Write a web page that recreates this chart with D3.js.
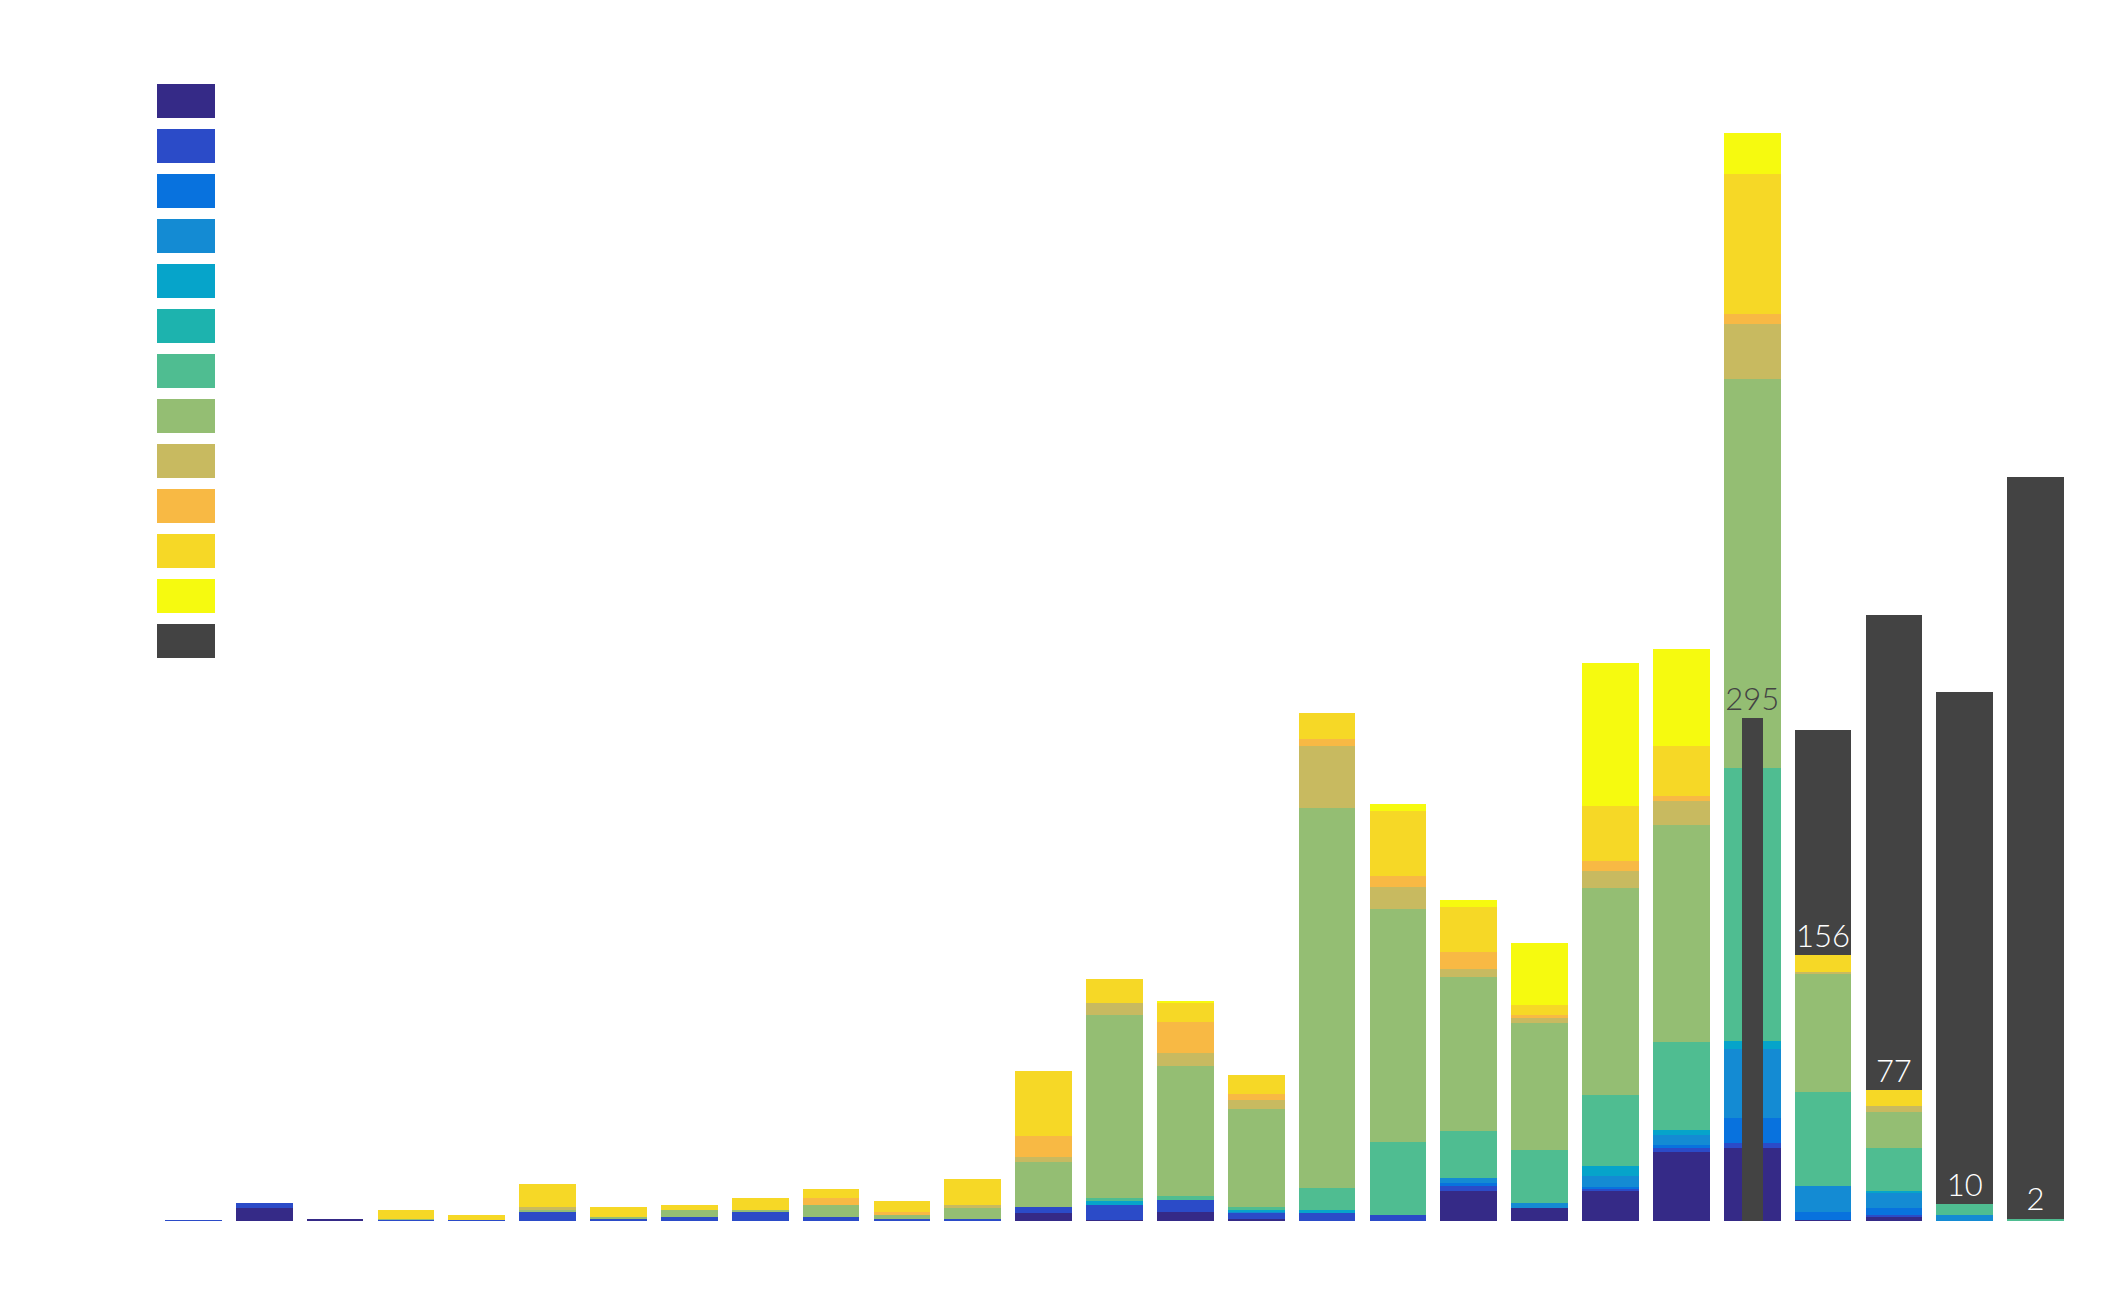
<!DOCTYPE html>
<html>
<head>
<meta charset="utf-8">
<script src="https://cdn.jsdelivr.net/npm/d3@7"></script>
<style>
  html, body { margin: 0; padding: 0; background: #ffffff; }
  svg { display: block; }
</style>
</head>
<body>
<svg id="chart" width="2108" height="1315"></svg>
<script>
// ---------------- DATA ----------------
const categories = ["1","2","3","4","5","6","7","8","9","10","11","12","13","14","15","16","17","18","19","20","21","22","23","24","25","26","27"];

const seriesNames = ["S1","S2","S3","S4","S5","S6","S7","S8","S9","S10","S11","S12"];

const s1  = [0,7.6,1.2,0,0,0,0,0,0,0,0,0,4.7,0.6,5.3,1.2,0,0,17.6,7.6,17.6,40.5,42.8,0.6,2.3,0,0];
const s2  = [0.6,2.9,0,0.6,0.6,5.3,1.2,2.3,5.3,2.3,1.2,1.2,3.5,8.8,7.0,3.5,4.7,3.5,2.9,0,1.2,2.3,2.9,0,1.0,0,0];
const s3  = [0,0,0,0,0,0,0,0,0,0,0,0,0,0,0,0,0,0,1.8,0,1.0,1.8,14.7,4.5,4.1,0,0];
const s4  = [0,0,0,0,0,0,0,0,0,0,0,0,0,0,0,0.6,0,0,2.9,2.9,6.6,5.9,40.5,15.2,9.0,3.8,0];
const s5  = [0,0,0,0,0,0,0,0,0,0,0,0,0,2.3,0,1.2,1.8,0,0,0,5.9,2.9,4.7,0,1.2,0,0];
const s6  = [0,0,0,0,0,0,0,0,0,0,0,0,0,0,0,0,0,0,0,0,0,0,0,0,0,0,0];
const s7  = [0,0,0,0,0,0,0,0,0,0,0,0,0,1.8,2.3,1.8,12.9,42.8,27.6,31.1,41.6,51.6,160.1,55.1,25.0,6.2,1.2];
const s8  = [0,0,0,0.6,0,1.2,1.2,4.1,1.2,7.0,2.3,6.5,26.4,107.3,76.2,57.5,222.9,136.7,90.3,74.5,121.4,127.3,227.6,69.2,21.1,0,0];
const s9  = [0,0,0,0,0,1.8,0,0,0,0,0,1.8,2.9,7.0,7.6,5.3,36.4,12.9,4.7,2.9,10.0,14.1,32.3,1.2,3.5,0,0];
const s10 = [0,0,0,0,0,0,0,0,0,4.1,1.8,0,12.3,0,18.2,3.5,4.1,6.5,10.0,1.8,5.9,2.9,5.9,0,0,0,0];
const s11 = [0,0,0,5.3,2.9,13.5,5.9,2.9,7.0,5.3,6.5,15.2,38.1,14.1,11.1,11.1,14.7,38.1,26.4,5.9,32.3,29.3,82.1,10.0,9.8,0,0];
const s12 = [0,0,0,0,0,0,0,0,0,0,0,0,0,0,1.2,0,0,4.1,4.1,36.4,83.3,56.9,24.3,0,0,0,0];

// dark grey series (null = none)
const darkValues  = [null,null,null,null,null,null,null,null,null,null,null,null,null,null,null,null,null,null,null,null,null,null,295,288,355,310,436];
// value labels
const labelValues = [null,null,null,null,null,null,null,null,null,null,null,null,null,null,null,null,null,null,null,null,null,null,295,156,77,10,2];

const seriesColors = ["#352a87","#2b4bc8","#0872de","#148bd3","#06a4ca","#1db3ae","#4fbd91","#94be73","#c8ba60","#f8b944","#f6d826","#f6fa0f"];
const darkColor = "#434343";

// ---------------- BUILD ----------------
const seriesArrays = [s1,s2,s3,s4,s5,s6,s7,s8,s9,s10,s11,s12];
const rows = categories.map((c, i) => {
  const r = { cat: c };
  seriesNames.forEach((k, j) => r[k] = seriesArrays[j][i]);
  return r;
});
const totals = rows.map(r => d3.sum(seriesNames, k => r[k]));

const svg = d3.select("#chart");
const W = 2108, H = 1315;
svg.append("rect").attr("width", W).attr("height", H).attr("fill", "#ffffff");

const x = d3.scaleBand().domain(categories).range([158, 2071]).paddingInner(0.2).paddingOuter(0.1);
const y = d3.scaleLinear().domain([0, 700]).range([1221, 1221 - 700 * 1.706]);
const color = d3.scaleOrdinal().domain(seriesNames).range(seriesColors);

const stack = d3.stack().keys(seriesNames)(rows);

// full-width dark bars (behind stacks) where the dark value exceeds the stacked total
const darkData = categories.map((c, i) => ({ cat: c, v: darkValues[i], total: totals[i] }))
  .filter(d => d.v != null);

svg.append("g").selectAll("rect")
  .data(darkData.filter(d => d.v >= d.total))
  .join("rect")
  .attr("x", d => x(d.cat))
  .attr("width", x.bandwidth())
  .attr("y", d => y(d.v))
  .attr("height", d => y(0) - y(d.v))
  .attr("fill", darkColor)
  .attr("shape-rendering", "crispEdges");

// stacked colored bars
svg.append("g").selectAll("g")
  .data(stack)
  .join("g")
  .attr("fill", d => color(d.key))
  .selectAll("rect")
  .data(d => d.filter(p => p[1] - p[0] > 0))
  .join("rect")
  .attr("x", d => x(d.data.cat))
  .attr("width", x.bandwidth())
  .attr("y", d => y(d[1]))
  .attr("height", d => y(d[0]) - y(d[1]))
  .attr("shape-rendering", "crispEdges");

// narrow dark bars (on top) where the dark value is below the stacked total
const narrowFrac = 0.37;
svg.append("g").selectAll("rect")
  .data(darkData.filter(d => d.v < d.total))
  .join("rect")
  .attr("x", d => x(d.cat) + x.bandwidth() * (1 - narrowFrac) / 2)
  .attr("width", x.bandwidth() * narrowFrac)
  .attr("y", d => y(d.v))
  .attr("height", d => y(0) - y(d.v))
  .attr("fill", darkColor)
  .attr("shape-rendering", "crispEdges");

// labels
const labelData = categories.map((c, i) => ({ cat: c, v: labelValues[i], dark: darkValues[i], total: totals[i] }))
  .filter(d => d.v != null);
svg.append("g").selectAll("text")
  .data(labelData)
  .join("text")
  .attr("x", d => x(d.cat) + x.bandwidth() / 2)
  .attr("y", d => y(d.v) - 8)
  .attr("text-anchor", "middle")
  .attr("font-family", "Lato, 'Open Sans', sans-serif")
  .attr("font-weight", 300)
  .attr("font-size", 31)
  .attr("fill", d => (d.dark != null && d.dark < d.total) ? darkColor : "#ffffff")
  .text(d => d.v);

// legend (swatches)
const legendColors = seriesColors.concat([darkColor]);
svg.append("g").selectAll("rect")
  .data(legendColors)
  .join("rect")
  .attr("x", 157)
  .attr("y", (d, i) => 84 + i * 45)
  .attr("width", 58)
  .attr("height", 34)
  .attr("fill", d => d)
  .attr("shape-rendering", "crispEdges");
</script>
</body>
</html>
